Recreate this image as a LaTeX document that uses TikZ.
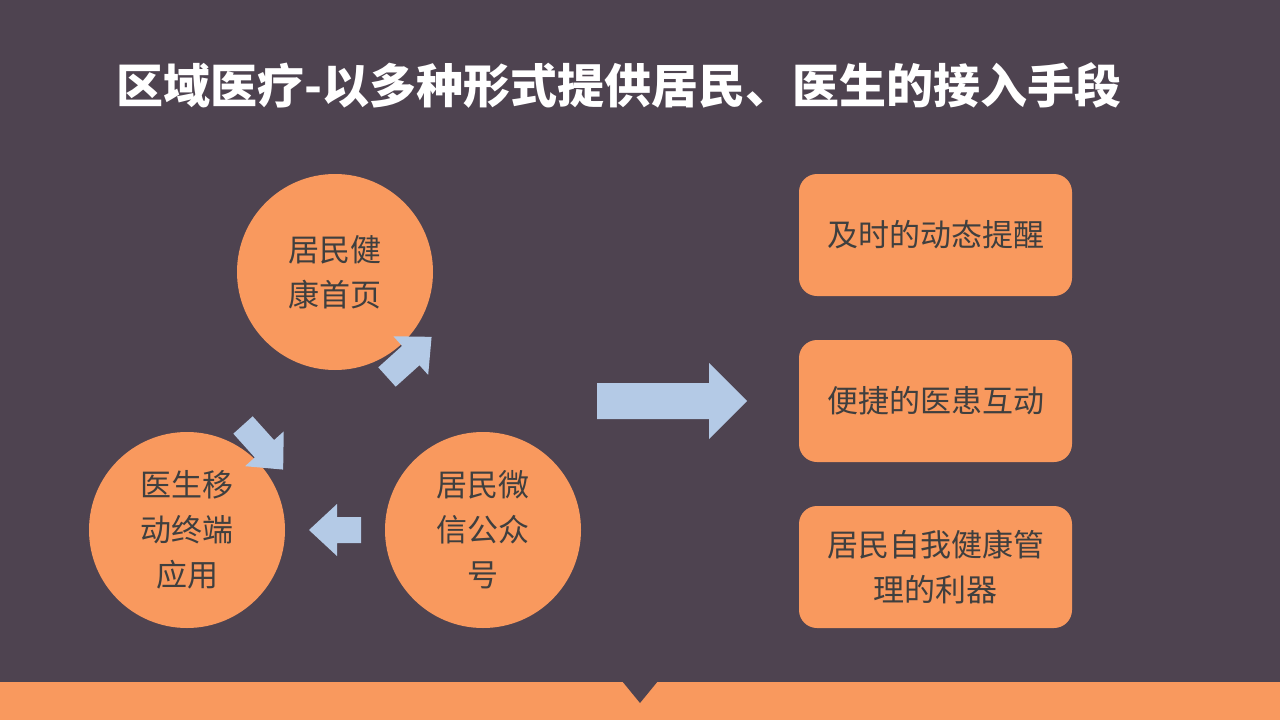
\documentclass[tikz,border=0pt]{standalone}
\usepackage{fontspec}
\setmainfont{Noto Sans CJK SC}
\definecolor{bg}{HTML}{4E4350}
\definecolor{org}{HTML}{F9995E}
\definecolor{arr}{HTML}{B4CAE6}
\definecolor{txt}{HTML}{3F3F3F}
\newcommand{\myarrow}[4]{% length, body half, head half, head length
  \fill[arr] (0,-#2) -- (#1-#4,-#2) -- (#1-#4,-#3) -- (#1,0) -- (#1-#4,#3) -- (#1-#4,#2) -- (0,#2) -- cycle;}
\begin{document}
\begin{tikzpicture}[x=1pt,y=-1pt,
  circ/.style={circle,fill=org,minimum size=196pt,inner sep=0,align=center,text=txt,font=\fontsize{31}{45}\selectfont},
  box/.style={rounded corners=18pt,fill=org,minimum width=273pt,minimum height=122pt,align=center,text=txt,font=\fontsize{31}{45}\selectfont}]
\fill[bg] (0,0) rectangle (1280,720);
\useasboundingbox (0,0) rectangle (1280,720);
\fill[org] (0,682) rectangle (1280,720);
\fill[bg] (622,681) -- (640,703) -- (658,681) -- cycle;
\node[text=white,font=\fontsize{47}{52}\selectfont\bfseries,anchor=west] (title) at (113,85) {区域医疗-以多种形式提供居民、医生的接入手段};
\node[circ] (c1) at (335,272) {居民健\\康首页};
\node[circ] (c2) at (483,530) {居民微\\信公众\\号};
\node[circ] (c3) at (187,530) {医生移\\动终端\\应用};
\begin{scope}[shift={(387,377)},rotate=42]\myarrow{60}{13}{26}{28}\end{scope}
\begin{scope}[shift={(361,530)},rotate=180]\myarrow{52}{13}{26}{28}\end{scope}
\begin{scope}[shift={(243,425)},rotate=-48]\myarrow{60}{13}{26}{28}\end{scope}
\begin{scope}[shift={(597,401)}]\myarrow{150}{18}{38}{38}\end{scope}
\node[box] (b1) at (935.5,235) {及时的动态提醒};
\node[box] (b2) at (935.5,401) {便捷的医患互动};
\node[box] (b3) at (935.5,567) {居民自我健康管\\理的利器};
\end{tikzpicture}
\end{document}
